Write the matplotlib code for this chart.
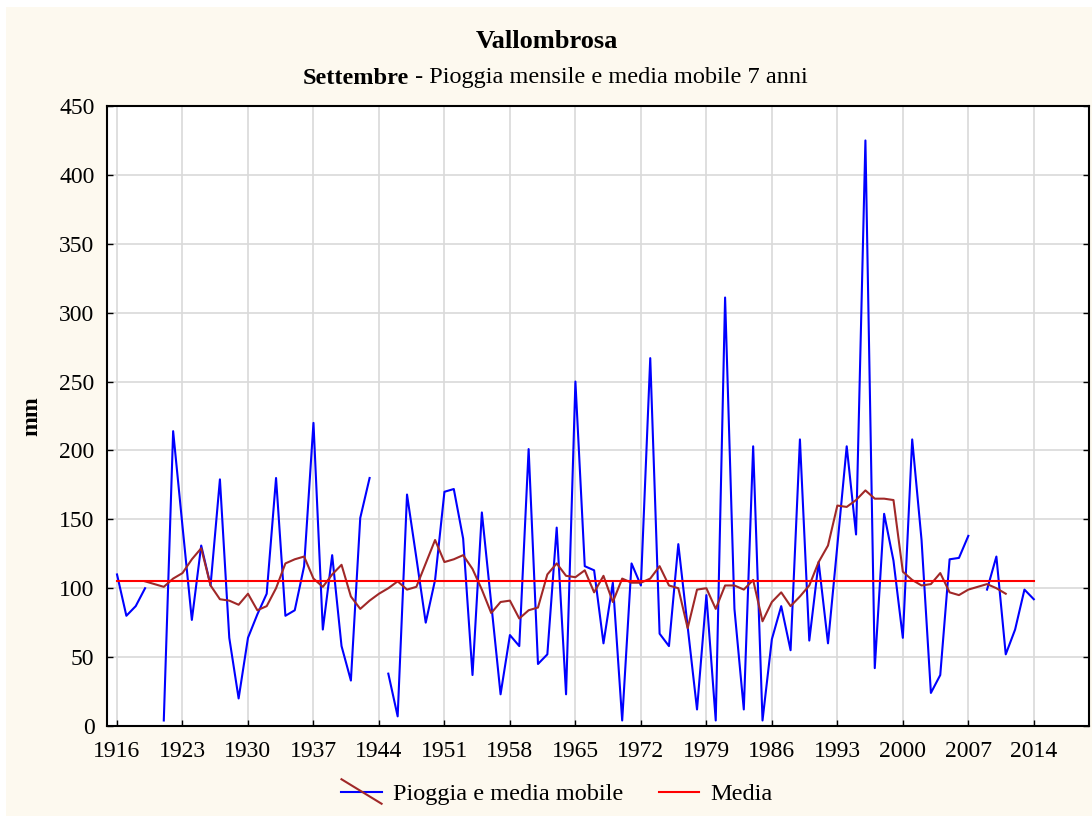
import numpy as np
import matplotlib
matplotlib.use("Agg")
import matplotlib.pyplot as plt
from matplotlib.lines import Line2D
from matplotlib.legend_handler import HandlerBase
from matplotlib.patches import Rectangle

nan = np.nan
years = list(range(1916, 2015))
rain = [110, 80, 87, 100, nan, 4, 214, 145, 77, 131,
        102, 179, 64, 20, 64, 81, 96, 180, 80, 84,
        116, 220, 70, 124, 58, 33, 151, 180, nan, 38,
        7, 168, 122, 75, 106, 170, 172, 136, 37, 155,
        89, 23, 66, 58, 201, 45, 52, 144, 23, 250,
        116, 113, 60, 104, 4, 118, 102, 267, 67, 58,
        132, 72, 12, 95, 4, 311, 85, 12, 203, 4,
        63, 87, 55, 208, 62, 119, 60, 131, 203, 139,
        425, 42, 154, 120, 64, 208, 135, 24, 37, 121,
        122, 138, nan, 99, 123, 52, 70, 99, 92]

ma_years = list(range(1919, 2012))
moving_avg = [105, 103, 101, 107, 111, 121, 129, 102, 92, 91,
              88, 96, 84, 87, 100, 118, 121, 123, 107, 101,
              110, 117, 94, 85, 91, 96, 100, 105, 99, 101,
              118, 135, 119, 121, 124, 114, 99, 82, 90, 91,
              78, 84, 86, 110, 118, 109, 108, 113, 97, 109,
              90, 107, 104, 104, 107, 116, 102, 100, 71, 99,
              100, 85, 102, 102, 99, 106, 76, 90, 97, 87,
              94, 102, 119, 131, 160, 159, 164, 171, 165, 165,
              164, 112, 106, 102, 103, 111, 97, 95, 99, 101,
              103, 100, 96]
mean_value = 105
xticks = list(range(1916, 2015, 7))
yticks = list(range(0, 451, 50))

BLUE = "#0000FF"
BROWN = "#A02828"
RED = "#FF0000"
CREAM = "#FDF9EF"

plt.rcParams['font.family'] = ['Liberation Serif', 'DejaVu Serif']

fig = plt.figure(figsize=(10.92, 8.16), dpi=100, facecolor="white")
fig.patches.append(Rectangle((6/1092, 0), 1 - 6/1092, 1 - 7/816,
                             transform=fig.transFigure, facecolor=CREAM,
                             edgecolor="none", zorder=-10))
ax = fig.add_axes([107/1092, 1 - 726/816, (1089 - 107)/1092, (726 - 106)/816])
ax.set_facecolor("white")

ax.plot(years, rain, color=BLUE, lw=1.5, zorder=3)
ax.plot(ma_years, moving_avg, color=BROWN, lw=1.5, zorder=4)
ax.plot([years[0], years[-1]], [mean_value, mean_value], color=RED, lw=1.5, zorder=5)

ax.set_xlim(1914.93, 2019.9)
ax.set_ylim(0, 450)
ax.set_xticks(xticks)
ax.set_yticks(yticks)
ax.grid(True, color="#d9d9d9", lw=1.2, zorder=0)
ax.set_axisbelow(True)
ax.tick_params(direction="in", length=4, width=1, labelsize=17,
               right=True, top=False)
ax.tick_params(axis="x", pad=11)
ax.tick_params(axis="y", pad=9)
for s in ax.spines.values():
    s.set_linewidth(1.5)
    s.set_color("black")

ax.set_ylabel("mm", fontsize=17, fontweight="bold", labelpad=12)

fig.text(0.5 + 1/1092, 1 - 41/816, "Vallombrosa", ha="center", va="center",
         fontsize=19, fontweight="bold")
# subtitle: bold part + regular part
t1 = fig.text(0, 1 - 78/816, "Settembre", ha="left", va="center",
              fontsize=17.5, fontweight="bold")
t2 = fig.text(0, 1 - 78/816, " - Pioggia mensile e media mobile 7 anni",
              ha="left", va="center", fontsize=17.5)
fig.canvas.draw()
r = fig.canvas.get_renderer()
w1 = t1.get_window_extent(r).width
w2 = t2.get_window_extent(r).width
total = w1 + w2
x0 = (555 - total / 2) / 1092
t1.set_x(x0)
t2.set_x(x0 + w1 / 1092)


class CrossHandler(HandlerBase):
    def create_artists(self, legend, orig_handle, xdescent, ydescent,
                       width, height, fontsize, trans):
        y = height / 2 - ydescent
        l1 = Line2D([-xdescent, width - xdescent], [y, y], color=BLUE, lw=1.5)
        l2 = Line2D([-xdescent, width - xdescent],
                    [y + height * 0.72, y - height * 0.72], color=BROWN, lw=1.5)
        l1.set_transform(trans)
        l2.set_transform(trans)
        return [l1, l2]


h1 = Line2D([], [], color=BLUE, lw=1.5)
h2 = Line2D([], [], color=RED, lw=1.5)
fig.legend([h1, h2], ["Pioggia e media mobile", "Media"],
           handler_map={h1: CrossHandler()},
           loc="center", bbox_to_anchor=(557/1092, 1 - 794/816),
           ncol=2, frameon=False, fontsize=17.5, handlelength=1.65,
           columnspacing=1.5, handletextpad=0.45)

fig.savefig("out.png", dpi=100, facecolor=fig.get_facecolor())
